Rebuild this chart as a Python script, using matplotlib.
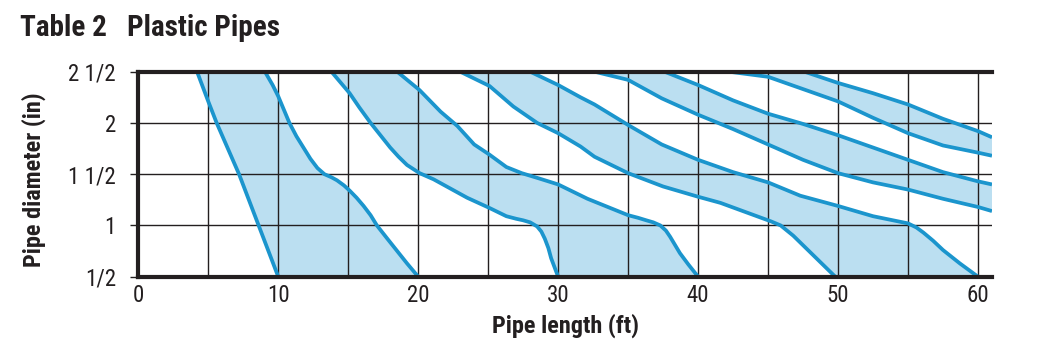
import matplotlib
matplotlib.use("Agg")
import matplotlib.pyplot as plt

plt.rcParams['font.family'] = ['Roboto Condensed', 'PT Sans Narrow', 'IBM Plex Sans Condensed', 'DejaVu Sans']

# ---- data (x = pipe length ft, y = diameter in) ----
c1L_x = [4.2, 5.0, 5.6, 7.2, 8.6, 10.0]
c1L_y = [2.5, 2.21, 2.0, 1.5, 1.0, 0.5]
c1R_x = [9.05, 9.6, 10.0, 10.4, 10.8, 11.3, 11.8, 12.3, 12.8, 13.3, 13.8, 14.2, 14.7, 15.1, 15.6,
         16.1, 16.6, 17.05, 17.8, 18.5, 19.2, 20.0]
c1R_y = [2.5, 2.37, 2.26, 2.13, 2.0, 1.87, 1.76, 1.65, 1.56, 1.5, 1.47, 1.44, 1.39, 1.34, 1.27,
         1.19, 1.1, 1.0, 0.87, 0.75, 0.63, 0.5]

c2L_x = [13.8, 15.1, 15.8, 16.6, 17.3, 18.0, 18.6, 19.2, 20.1, 21.1, 22.3, 23.5, 25.1, 26.3, 27.0,
         27.5, 28.0, 28.5, 28.8, 29.05, 29.3, 29.5, 29.75, 30.0]
c2L_y = [2.5, 2.29, 2.15, 2.0, 1.88, 1.76, 1.67, 1.59, 1.51, 1.45, 1.36, 1.27, 1.17, 1.09, 1.065,
         1.05, 1.03, 0.99, 0.94, 0.87, 0.78, 0.68, 0.59, 0.5]
c2R_x = [18.5, 20.1, 21.6, 22.8, 24.0, 25.1, 26.3, 27.4, 28.6, 30.0, 32.1, 35.0, 35.7, 36.3, 36.8,
         37.3, 37.7, 38.0, 38.35, 38.7, 39.3, 40.0]
c2R_y = [2.5, 2.32, 2.11, 1.97, 1.79, 1.69, 1.57, 1.51, 1.46, 1.4, 1.26, 1.1, 1.075, 1.05, 1.03,
         1.0, 0.95, 0.89, 0.81, 0.73, 0.62, 0.5]

c3L_x = [23.0, 25.1, 26.8, 28.5, 30.0, 31.6, 32.6, 35.0, 37.5, 40.0, 41.6, 43.0, 44.4, 45.2, 45.9,
         46.35, 46.8, 47.4, 48.0, 48.9, 49.8]
c3L_y = [2.5, 2.36, 2.16, 2.0, 1.9, 1.77, 1.67, 1.51, 1.38, 1.28, 1.22, 1.15, 1.08, 1.04, 1.0,
         0.95, 0.9, 0.82, 0.74, 0.62, 0.5]
c3R_x = [28.0, 30.0, 31.6, 32.6, 35.0, 37.4, 40.0, 42.5, 45.0, 47.3, 50.0, 52.5, 55.0, 55.6, 56.1,
         56.8, 57.5, 58.7, 60.0]
c3R_y = [2.5, 2.37, 2.25, 2.18, 1.98, 1.79, 1.64, 1.52, 1.42, 1.29, 1.19, 1.09, 1.02, 0.98, 0.93,
         0.85, 0.76, 0.63, 0.5]

c4L_x = [32.6, 35.0, 37.4, 40.0, 42.5, 45.0, 47.5, 50.0, 52.5, 55.0, 57.5, 60.0, 61.0]
c4L_y = [2.5, 2.42, 2.24, 2.08, 1.94, 1.79, 1.64, 1.51, 1.42, 1.35, 1.26, 1.18, 1.14]
c4R_x = [37.6, 40.0, 42.5, 45.0, 47.5, 50.0, 52.5, 55.0, 57.5, 60.0, 61.0]
c4R_y = [2.5, 2.37, 2.22, 2.09, 1.99, 1.88, 1.76, 1.64, 1.52, 1.43, 1.4]

c5L_x = [42.2, 45.0, 47.5, 50.0, 52.5, 55.0, 57.5, 60.0, 61.0]
c5L_y = [2.5, 2.45, 2.33, 2.21, 2.05, 1.9, 1.78, 1.71, 1.68]
c5R_x = [47.6, 50.0, 52.5, 55.0, 57.5, 60.0, 61.0]
c5R_y = [2.5, 2.39, 2.29, 2.18, 2.04, 1.92, 1.86]

bands = [
    ((c1L_x, c1L_y), (c1R_x, c1R_y)),
    ((c2L_x, c2L_y), (c2R_x, c2R_y)),
    ((c3L_x, c3L_y), (c3R_x, c3R_y)),
    ((c4L_x, c4L_y), (c4R_x, c4R_y)),
    ((c5L_x, c5L_y), (c5R_x, c5R_y)),
]

x_ticks = [0, 10, 20, 30, 40, 50, 60]
y_ticks = [0.5, 1.0, 1.5, 2.0, 2.5]
y_ticklabels = ['1/2', '1', '1 1/2', '2', '2 1/2']

title = 'Table 2   Plastic Pipes'
xlabel = 'Pipe length (ft)'
ylabel = 'Pipe diameter (in)'

LINE = '#1b95cd'
FILL = '#bbdff1'
DARK = '#231f20'

fig = plt.figure(figsize=(10.58, 3.55), dpi=100)
ax = fig.add_axes([0.1307, 0.2206, 0.8069, 0.5775])

for (lx, ly), (rx, ry) in bands:
    px = list(lx) + list(rx)[::-1]
    py = list(ly) + list(ry)[::-1]
    ax.fill(px, py, color=FILL, lw=0, zorder=1)

# grid
for gx in range(5, 61, 5):
    ax.axvline(gx, color=DARK, lw=1.0, zorder=2)
for gy in [1.0, 1.5, 2.0]:
    ax.axhline(gy, color=DARK, lw=1.0, zorder=2)

for (lx, ly), (rx, ry) in bands:
    ax.plot(lx, ly, color=LINE, lw=2.7, solid_capstyle='butt', solid_joinstyle='round', zorder=3)
    ax.plot(rx, ry, color=LINE, lw=2.7, solid_capstyle='butt', solid_joinstyle='round', zorder=3)

ax.set_xlim(0, 61)
ax.set_ylim(0.5, 2.5)

for s in ['left', 'top', 'bottom']:
    ax.spines[s].set_linewidth(3.0)
    ax.spines[s].set_color(DARK)
    ax.spines[s].set_zorder(4)
ax.spines['right'].set_visible(False)

ax.set_xticks(x_ticks)
ax.set_xticklabels([str(v) for v in x_ticks])
ax.set_yticks(y_ticks)
ax.set_yticklabels(y_ticklabels)
ax.tick_params(axis='x', length=0, pad=5, labelsize=16.5, labelcolor=DARK)
ax.tick_params(axis='y', length=6, width=1.0, color=DARK, pad=10, labelsize=16.5, labelcolor=DARK)

ax.set_xlabel(xlabel, fontsize=17.5, fontweight='bold', color=DARK, labelpad=5)
ax.set_ylabel(ylabel, fontsize=17.5, fontweight='bold', color=DARK)
ax.yaxis.set_label_coords(-0.108, 0.472)

fig.text(20 / 1058, 1 - 28 / 355, title, fontsize=21, fontweight='bold', color=DARK,
         ha='left', va='center')

fig.savefig('out.png', dpi=100)
